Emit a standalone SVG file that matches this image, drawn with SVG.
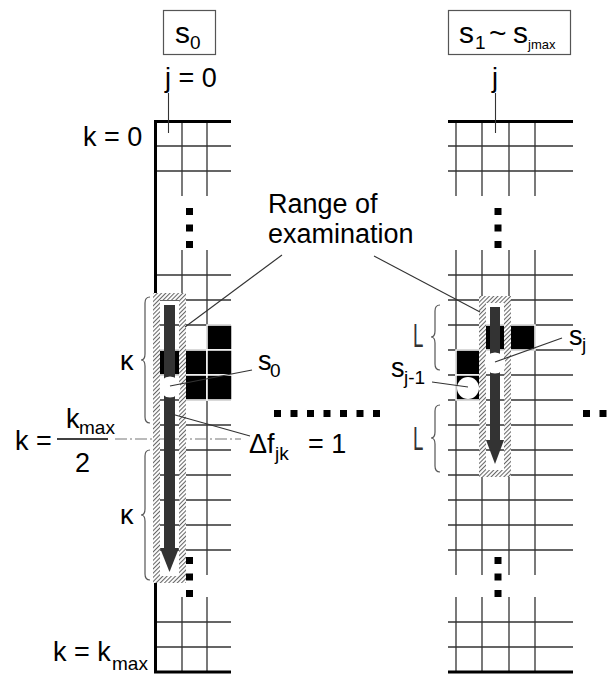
<svg xmlns="http://www.w3.org/2000/svg" width="616" height="675" viewBox="0 0 616 675">
<style>
text{font-family:"Liberation Sans",Arial,sans-serif;fill:#000}
.t{font-size:27px}
.big{font-size:30px}
.sub{font-size:19px}
.tiny{font-size:13px}
.thin{stroke:#333;stroke-width:1.3;fill:none}
.thick{stroke:#000;stroke-width:3;fill:none}
.blk{fill:#000;stroke:#fff;stroke-width:1.5}
.lead{stroke:#333;stroke-width:1.1;fill:none}
.brace{stroke:#555;stroke-width:1.2;fill:none}
.dot{fill:#000}
.shaft{fill:#333}
.ell{font-family:"Liberation Sans",Arial,sans-serif;font-size:34px;fill:#333}
</style>
<defs>
<pattern id="hatch" width="3" height="3" patternUnits="userSpaceOnUse" patternTransform="rotate(45)">
<rect width="3" height="3" fill="#fff"/>
<line x1="0.5" y1="0" x2="0.5" y2="3" stroke="#666" stroke-width="1.1"/>
</pattern>
</defs>

<g id="box-s0">
<rect x="163.5" y="10.5" width="52" height="44" fill="none" stroke="#555" stroke-width="1.2"/>
<text class="big" x="175" y="43">s</text><text class="sub" x="190" y="49">0</text>
</g>
<g id="box-s1">
<rect x="448.5" y="10.5" width="122" height="44" fill="none" stroke="#555" stroke-width="1.2"/>
<text class="big" x="459" y="43">s</text><text class="sub" x="475" y="49">1</text>
<text class="big" x="489" y="43">~</text>
<text class="big" x="513" y="43">s</text><text class="tiny" x="528" y="49">jmax</text>
</g>

<g id="grid-left">
<path class="thin" d="M155 146H231M155 171H231M155 275H231M155 300H231M155 325H231M155 350H231M155 375H231M155 400H231M155 425H231M155 450H231M155 475H231M155 500H231M155 525H231M155 550H231M155 622H231M155 647H231"/>
<path class="thin" d="M182 121V196M207 121V196M182 250V575M207 250V575M182 597V672M207 597V672"/>
<path class="thick" d="M155.5 120V673.5M154 121.5H231M154 672H231"/>
<rect class="blk" x="207" y="325" width="25" height="25"/>
<rect class="blk" x="155" y="350" width="27" height="25"/>
<rect class="blk" x="182" y="350" width="25" height="25"/>
<rect class="blk" x="207" y="350" width="25" height="25"/>
<rect class="blk" x="182" y="375" width="25" height="25"/>
<rect class="blk" x="207" y="375" width="25" height="25"/>
<rect class="dot" x="186" y="208" width="7" height="7"/>
<rect class="dot" x="186" y="224.5" width="7" height="7"/>
<rect class="dot" x="186" y="241" width="7" height="7"/>
<rect class="dot" x="186" y="557" width="7" height="7"/>
<rect class="dot" x="186" y="573.5" width="7" height="7"/>
<rect class="dot" x="186" y="590" width="7" height="7"/>
</g>

<g id="grid-right">
<path class="thin" d="M448 146H573M448 171H573M448 275H573M448 300H573M448 325H573M448 350H573M448 375H573M448 400H573M448 425H573M448 450H573M448 475H573M448 500H573M448 525H573M448 550H573M448 622H573M448 647H573"/>
<path class="thin" d="M456 121V196M482 121V196M509 121V196M535 121V196M456 250V575M482 250V575M509 250V575M535 250V575M456 597V672M482 597V672M509 597V672M535 597V672"/>
<path class="thick" d="M448 121.5H573M448 672H573"/>
<rect class="blk" x="482" y="325" width="27" height="25"/>
<rect class="blk" x="509" y="325" width="26" height="25"/>
<rect class="blk" x="456" y="350" width="26" height="25"/>
<rect class="blk" x="456" y="375" width="26" height="25"/>
<rect class="dot" x="494.5" y="208" width="7" height="7"/>
<rect class="dot" x="494.5" y="224.5" width="7" height="7"/>
<rect class="dot" x="494.5" y="241" width="7" height="7"/>
<rect class="dot" x="494.5" y="557" width="7" height="7"/>
<rect class="dot" x="494.5" y="573.5" width="7" height="7"/>
<rect class="dot" x="494.5" y="590" width="7" height="7"/>
</g>

<g id="kmax-half-line">
<line x1="115" y1="439" x2="241" y2="439" stroke="#777" stroke-width="1.2" stroke-dasharray="12,3,2,3"/>
</g>

<g id="range-left">
<path d="M153 293H186V583H153ZM160 300V576H179V300Z" fill="url(#hatch)" fill-rule="evenodd"/>
<rect class="shaft" x="164" y="305" width="11" height="244"/>
<polygon class="shaft" points="160,548 179,548 169.5,572"/>
<circle id="s0-circle" cx="170" cy="387" r="10.5" fill="#fff"/>
</g>

<g id="range-right">
<path d="M479 296H511V477H479ZM486 303V470H504V303Z" fill="url(#hatch)" fill-rule="evenodd"/>
<rect class="shaft" x="490" y="307" width="10" height="134"/>
<polygon class="shaft" points="486,440 504,440 495,464"/>
<circle id="sj-circle" cx="495" cy="363" r="10.5" fill="#fff"/>
<circle id="sj1-circle" cx="468" cy="388" r="11" fill="#fff"/>
</g>

<g id="middle-dots">
<rect class="dot" x="274" y="410" width="7" height="7"/>
<rect class="dot" x="290.5" y="410" width="7" height="7"/>
<rect class="dot" x="307" y="410" width="7" height="7"/>
<rect class="dot" x="323.5" y="410" width="7" height="7"/>
<rect class="dot" x="340" y="410" width="7" height="7"/>
<rect class="dot" x="356.5" y="410" width="7" height="7"/>
<rect class="dot" x="373" y="410" width="7" height="7"/>
<rect class="dot" x="583" y="410" width="7" height="7"/>
<rect class="dot" x="599.5" y="410" width="7" height="7"/>
<rect class="dot" x="616" y="410" width="7" height="7"/>
</g>

<g id="connectors">
<line class="lead" x1="168.5" y1="93" x2="168.5" y2="133"/>
<line class="lead" x1="495.5" y1="93" x2="495.5" y2="133"/>
<line class="lead" x1="282" y1="255" x2="185" y2="327"/>
<line class="lead" x1="374" y1="256" x2="480" y2="312"/>
<line class="lead" x1="170" y1="386" x2="252" y2="370"/>
<line class="lead" x1="168" y1="413" x2="250" y2="436"/>
<line class="lead" x1="495" y1="362" x2="562" y2="338"/>
<line class="lead" x1="432" y1="382" x2="468" y2="387"/>
<line x1="57" y1="439" x2="108" y2="439" stroke="#000" stroke-width="1.3"/>
</g>

<g id="braces">
<path class="brace" d="M150 297Q145 297 145 303V354Q145 360 141 360Q145 360 145 366V417Q145 423 150 423"/>
<path class="brace" d="M150 450Q145 450 145 456V509Q145 515 141 515Q145 515 145 521V574Q145 580 150 580"/>
<path class="brace" d="M440 305Q435 305 435 311V331Q435 337 431 337Q435 337 435 343V364Q435 370 440 370"/>
<path class="brace" d="M440 405Q435 405 435 411V432Q435 438 431 438Q435 438 435 444V466Q435 472 440 472"/>
</g>

<g id="labels">
<text class="t" x="165" y="87">j = 0</text>
<text class="t" x="492" y="87">j</text>
<text class="t" x="83" y="146">k = 0</text>
<text class="t" x="268" y="213">Range of</text>
<text class="t" x="268" y="243">examination</text>
<text class="t" x="120" y="370">κ</text>
<text class="t" x="120" y="524">κ</text>
<text class="t" x="258" y="370">s</text><text class="sub" x="270" y="377">0</text>
<text class="t" x="249" y="453">Δf</text><text class="sub" x="275" y="460">jk</text><text class="t" x="308" y="453">= 1</text>
<text class="t" x="15" y="450">k =</text>
<text class="t" x="66" y="428">k</text><text class="sub" x="79" y="434">max</text>
<text class="t" x="75" y="472">2</text>
<text class="t" x="53" y="661">k = k</text><text class="sub" x="112" y="670">max</text>
<text class="t" x="569" y="345">s</text><text class="sub" x="582" y="351">j</text>
<text class="t" x="391" y="377">s</text><text class="sub" x="404" y="384">j-1</text>
<text class="ell" transform="translate(413,347) scale(0.55,1)">L</text>
<text class="ell" transform="translate(413,450) scale(0.55,1)">L</text>
</g>
</svg>
